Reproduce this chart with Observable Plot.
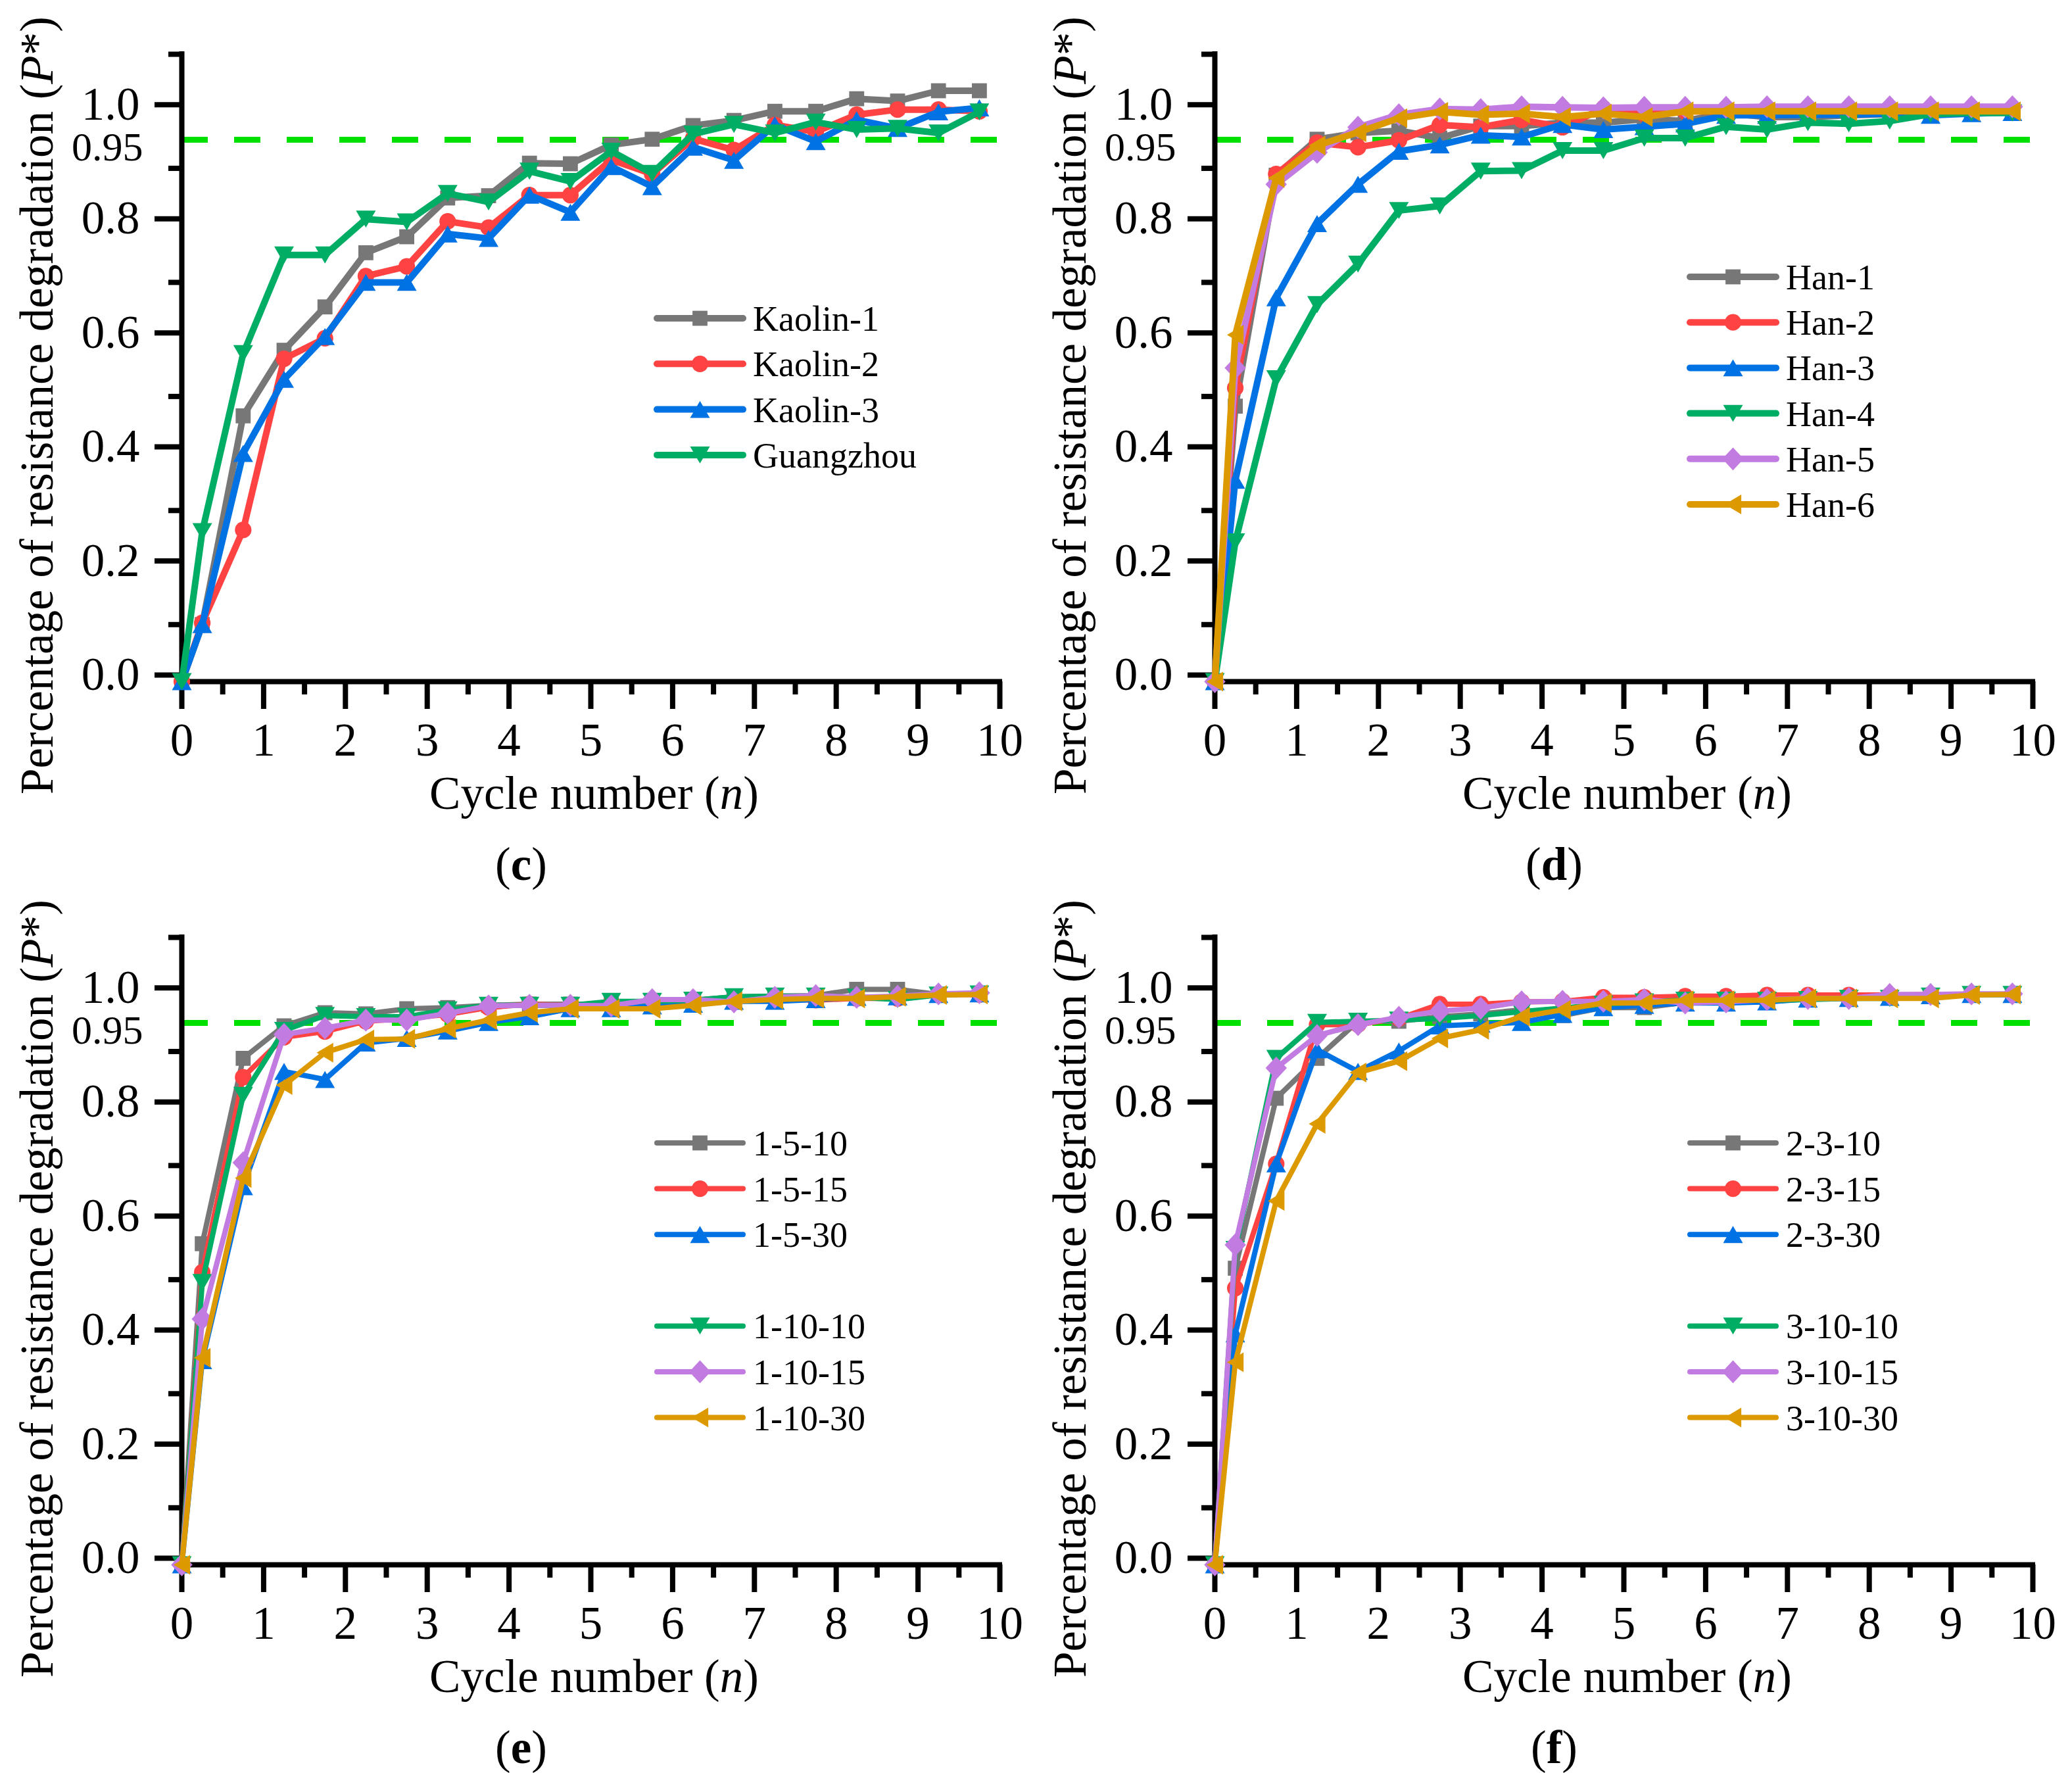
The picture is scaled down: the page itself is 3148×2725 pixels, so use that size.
<!DOCTYPE html>
<html>
<head>
<meta charset="utf-8">
<script src="https://cdn.jsdelivr.net/npm/d3@7"></script>
<script src="https://cdn.jsdelivr.net/npm/@observablehq/plot@0.6"></script>
<style>
  body { margin: 0; background: #fff; }
  #root { position: relative; width: 3148px; height: 2725px; background: #fff; font-family: "Liberation Serif", "Times New Roman", serif; }
  .panel { position: absolute; width: 1572px; height: 1343px; }
  .panel svg { position: absolute; left: 0; top: 0; }
  .legend { pointer-events: none; }
</style>
</head>
<body>
<div id="root"></div>
<script>
// ---------- DATA ----------
const cycles = [0, 0.25, 0.75, 1.25, 1.75, 2.25, 2.75, 3.25, 3.75, 4.25, 4.75, 5.25, 5.75, 6.25, 6.75, 7.25, 7.75, 8.25, 8.75, 9.25, 9.75];

const yTicks = [0, 0.2, 0.4, 0.6, 0.8, 1.0];
const yMinorTicks = [0.1, 0.3, 0.5, 0.7, 0.9, 1.1];
const xTicks = [0, 1, 2, 3, 4, 5, 6, 7, 8, 9, 10];
const xMinorTicks = [0.5, 1.5, 2.5, 3.5, 4.5, 5.5, 6.5, 7.5, 8.5, 9.5];
const threshold = [0.95];

// (c)
const namesC = ["Kaolin-1", "Kaolin-2", "Kaolin-3", "Guangzhou"];
const kaolin1 = [0, 0.10, 0.466, 0.581, 0.657, 0.752, 0.78, 0.848, 0.852, 0.909, 0.908, 0.941, 0.951, 0.975, 0.984, 1.0, 1.0, 1.022, 1.018, 1.036, 1.036];
const kaolin2 = [0, 0.103, 0.266, 0.566, 0.602, 0.711, 0.728, 0.807, 0.796, 0.853, 0.853, 0.915, 0.89, 0.952, 0.932, 0.976, 0.964, 0.994, 1.003, 1.003, 1.0];
const kaolin3 = [0, 0.10, 0.40, 0.53, 0.605, 0.70, 0.70, 0.785, 0.777, 0.853, 0.823, 0.903, 0.868, 0.937, 0.914, 0.976, 0.947, 0.985, 0.97, 0.999, 1.006];
const guangzhou = [0, 0.263, 0.575, 0.748, 0.748, 0.811, 0.806, 0.856, 0.841, 0.895, 0.877, 0.93, 0.891, 0.96, 0.977, 0.962, 0.981, 0.968, 0.97, 0.962, 0.999];

// (d)
const namesD = ["Han-1", "Han-2", "Han-3", "Han-4", "Han-5", "Han-6"];
const han1 = [0, 0.483, 0.888, 0.951, 0.962, 0.966, 0.953, 0.974, 0.974, 0.98, 0.98, 0.986, 0.983, 0.997, 0.99, 0.99, 0.993, 0.995, 0.995, 0.998, 0.998];
const han2 = [0, 0.515, 0.89, 0.945, 0.937, 0.949, 0.976, 0.972, 0.985, 0.972, 1.005, 0.995, 1.0, 1.0, 1.0, 1.0, 1.0, 1.0, 1.0, 1.0, 1.0];
const han3 = [0, 0.353, 0.673, 0.803, 0.872, 0.93, 0.941, 0.958, 0.955, 0.977, 0.968, 0.973, 0.978, 0.993, 0.993, 0.994, 0.994, 0.996, 0.993, 0.996, 0.998];
const han4 = [0, 0.245, 0.531, 0.661, 0.732, 0.826, 0.834, 0.895, 0.896, 0.931, 0.931, 0.953, 0.953, 0.973, 0.968, 0.98, 0.978, 0.983, 0.995, 0.997, 0.997];
const han5 = [0, 0.55, 0.872, 0.928, 0.972, 0.994, 1.004, 1.003, 1.008, 1.007, 1.006, 1.007, 1.007, 1.007, 1.008, 1.008, 1.008, 1.008, 1.008, 1.008, 1.008];
const han6 = [0, 0.608, 0.883, 0.94, 0.963, 0.988, 0.999, 0.994, 0.996, 0.99, 0.996, 0.99, 1.0, 1.0, 1.0, 1.0, 1.0, 1.0, 1.0, 1.0, 1.0];

// (e)
const namesE = ["1-5-10", "1-5-15", "1-5-30", "1-10-10", "1-10-15", "1-10-30"];
const e1510 = [0, 0.563, 0.888, 0.945, 0.968, 0.966, 0.975, 0.977, 0.981, 0.983, 0.983, 0.983, 0.986, 0.99, 0.996, 0.997, 0.998, 1.009, 1.009, 1.0, 1.0];
const e1515 = [0, 0.513, 0.855, 0.925, 0.935, 0.953, 0.958, 0.965, 0.977, 0.983, 0.981, 0.985, 0.988, 0.99, 0.988, 0.993, 0.99, 0.993, 0.993, 1.0, 1.0];
const e1530 = [0, 0.358, 0.663, 0.865, 0.851, 0.915, 0.923, 0.936, 0.951, 0.961, 0.975, 0.975, 0.98, 0.983, 0.988, 0.988, 0.991, 0.995, 0.996, 1.0, 1.001];
const e11010 = [0, 0.495, 0.823, 0.937, 0.963, 0.961, 0.961, 0.973, 0.981, 0.981, 0.981, 0.988, 0.988, 0.99, 0.996, 0.997, 0.997, 0.995, 0.991, 0.999, 1.001];
const e11015 = [0, 0.431, 0.705, 0.93, 0.941, 0.955, 0.955, 0.967, 0.98, 0.981, 0.981, 0.98, 0.991, 0.991, 0.987, 0.995, 0.998, 0.995, 0.997, 1.001, 1.003];
const e11030 = [0, 0.363, 0.678, 0.841, 0.898, 0.921, 0.922, 0.94, 0.955, 0.968, 0.975, 0.975, 0.975, 0.981, 0.988, 0.991, 0.993, 0.993, 0.996, 0.999, 1.0];

// (f)
const namesF = ["2-3-10", "2-3-15", "2-3-30", "3-10-10", "3-10-15", "3-10-30"];
const f2310 = [0, 0.52, 0.818, 0.888, 0.953, 0.953, 0.961, 0.966, 0.973, 0.963, 0.977, 0.977, 0.986, 0.987, 0.987, 0.993, 0.995, 0.995, 0.997, 1.0, 1.0];
const f2315 = [0, 0.485, 0.703, 0.947, 0.947, 0.958, 0.983, 0.983, 0.987, 0.988, 0.995, 0.995, 0.997, 0.997, 0.999, 0.999, 0.999, 0.999, 1.0, 1.0, 1.0];
const f2330 = [0, 0.405, 0.703, 0.903, 0.865, 0.901, 0.945, 0.948, 0.951, 0.965, 0.977, 0.981, 0.985, 0.985, 0.987, 0.992, 0.993, 0.995, 0.998, 1.0, 1.0];
const f31010 = [0, 0.553, 0.888, 0.951, 0.953, 0.955, 0.958, 0.963, 0.97, 0.976, 0.983, 0.987, 0.99, 0.99, 0.99, 0.991, 0.993, 0.993, 0.997, 1.0, 1.0];
const f31015 = [0, 0.561, 0.871, 0.928, 0.947, 0.96, 0.971, 0.976, 0.987, 0.988, 0.988, 0.991, 0.985, 0.987, 0.991, 0.993, 0.993, 1.0, 1.0, 1.001, 1.001];
const f31030 = [0, 0.355, 0.638, 0.773, 0.863, 0.883, 0.923, 0.938, 0.961, 0.973, 0.985, 0.985, 0.99, 0.99, 0.99, 0.993, 0.993, 0.993, 0.993, 0.999, 1.0];

// ---------- STYLE ----------
const GRAY = "#777777", RED = "#FF4242", BLUE = "#0072E3", GREEN = "#00AD65", PURPLE = "#C27BE0", ORANGE = "#DC9A00";
const DASH = "#00E000";
const FONT = '"Liberation Serif", "Times New Roman", serif';

const poly = (pts) => ({
  draw(ctx, size) {
    const r = Math.sqrt(size / Math.PI);
    ctx.moveTo(pts[0][0] * r, pts[0][1] * r);
    for (const p of pts.slice(1)) ctx.lineTo(p[0] * r, p[1] * r);
    ctx.closePath();
  }
});
const symSquare = poly([[-0.95, -0.95], [0.95, -0.95], [0.95, 0.95], [-0.95, 0.95]]);
const symCircle = { draw(ctx, size) { const r = Math.sqrt(size / Math.PI) * 1.05; ctx.moveTo(r, 0); ctx.arc(0, 0, r, 0, 2 * Math.PI); } };
const symUp = poly([[0, -1.08], [1.25, 1.08], [-1.25, 1.08]]);
const symDown = poly([[0, 1.08], [1.25, -1.08], [-1.25, -1.08]]);
const symDiamond = poly([[0, -1.45], [1.35, 0], [0, 1.45], [-1.35, 0]]);
const symLeft = poly([[-1.05, 0], [1.05, -1.25], [1.05, 1.25]]);

const colors6 = [GRAY, RED, BLUE, GREEN, PURPLE, ORANGE];
const symbols6 = [symSquare, symCircle, symUp, symDown, symDiamond, symLeft];

const panels = [
  { tag: "c", left: 0, top: 0, lw: 10, names: namesC, values: [kaolin1, kaolin2, kaolin3, guangzhou], legendTop: 484, legendStep: 69.3, gap: false },
  { tag: "d", left: 1571, top: 0, lw: 10, names: namesD, values: [han1, han2, han3, han4, han5, han6], legendTop: 421, legendStep: 69.2, gap: false },
  { tag: "e", left: 0, top: 1343, lw: 8, names: namesE, values: [e1510, e1515, e1530, e11010, e11015, e11030], legendTop: 395, legendStep: 69.6, gap: true },
  { tag: "f", left: 1571, top: 1343, lw: 8, names: namesF, values: [f2310, f2315, f2330, f31010, f31015, f31030], legendTop: 395, legendStep: 69.6, gap: true }
];

const W = 1572, H = 1343;
const root = document.getElementById("root");
const SVGNS = "http://www.w3.org/2000/svg";

function rich(el, parts) {
  el.textContent = "";
  for (const [s, st] of parts) {
    const ts = document.createElementNS(SVGNS, "tspan");
    ts.textContent = s;
    if (st === "i") ts.setAttribute("font-style", "italic");
    if (st === "b") ts.setAttribute("font-weight", "bold");
    el.appendChild(ts);
  }
}

for (const p of panels) {
  const series = p.names.map((name, k) => ({
    name,
    color: colors6[k],
    symbol: symbols6[k],
    rows: cycles.map((x, i) => ({ x, y: p.values[k][i] }))
  }));
  const seriesMarks = series.flatMap((s) => [
    Plot.line(s.rows, { x: "x", y: "y", stroke: s.color, strokeWidth: p.lw, strokeLinejoin: "miter", strokeLinecap: "butt" }),
    Plot.dot(s.rows, { x: "x", y: "y", symbol: s.symbol, r: 12, fill: s.color, stroke: "none" })
  ]);

  const chart = Plot.plot({
    width: W, height: H,
    marginLeft: 276, marginRight: 52, marginTop: 82, marginBottom: 307,
    x: { domain: [0, 10], label: null },
    y: { domain: [0, 1.1], label: null },
    style: { fontFamily: FONT, background: "transparent", color: "black", overflow: "visible" },
    marks: [
      Plot.ruleY(threshold, { x1: 0, x2: 10, stroke: DASH, strokeWidth: 9, strokeDasharray: "40,40" }),
      Plot.axisY({ ticks: yTicks, tickSize: 41, tickPadding: 23, tickFormat: (d) => d.toFixed(1), fontSize: 71, strokeWidth: 8, dy: -10, label: null }),
      Plot.axisY({ ticks: yMinorTicks, tickSize: 20, tickFormat: () => "", strokeWidth: 8, label: null }),
      Plot.axisX({ ticks: xTicks, tickSize: 42, tickPadding: 20, tickFormat: (d) => String(d), fontSize: 71, strokeWidth: 8, label: null }),
      Plot.axisX({ ticks: xMinorTicks, tickSize: 20, tickFormat: () => "", strokeWidth: 8, label: null }),
      Plot.ruleX([0], { y1: 0, y2: 1.1, strokeWidth: 8, strokeLinecap: "square" }),
      Plot.ruleY([0], { x1: 0, x2: 10, strokeWidth: 8, strokeLinecap: "square" }),
      Plot.text(threshold, { x: 0, y: (d) => d, text: (d) => d.toFixed(2), textAnchor: "end", dx: -59, dy: 12, fontSize: 62 }),
      ...seriesMarks,
      Plot.text(["Cycle number (n)"], { text: (d) => d, frameAnchor: "bottom", textAnchor: "middle", lineAnchor: "middle", dx: 5, dy: 171, fontSize: 71 }),
      Plot.text(["Percentage of resistance degradation (P*)"], { text: (d) => d, frameAnchor: "left", textAnchor: "middle", lineAnchor: "middle", rotate: -90, dx: -219, dy: 57, fontSize: 71 }),
      Plot.text([`(${p.tag})`], { text: (d) => d, frameAnchor: "bottom", textAnchor: "middle", lineAnchor: "middle", dx: -106, dy: 279, fontSize: 71 })
    ]
  });

  // rich text (italics / bold)
  d3.select(chart).selectAll("text").each(function () {
    const t = this.textContent;
    if (t === "Cycle number (n)") rich(this, [["Cycle number (", ""], ["n", "i"], [")", ""]]);
    else if (t === "Percentage of resistance degradation (P*)") rich(this, [["Percentage of resistance degradation (", ""], ["P", "i"], ["*)", ""]]);
    else if (t === `(${p.tag})`) rich(this, [["(", ""], [p.tag, "b"], [")", ""]]);
  });

  const div = document.createElement("div");
  div.className = "panel";
  div.style.left = p.left + "px";
  div.style.top = p.top + "px";
  div.appendChild(chart);

  // legend overlay
  const lg = d3.create("svg").attr("class", "legend").attr("width", W).attr("height", H)
    .style("font-family", FONT);
  series.forEach((s, i) => {
    const y = p.legendTop + i * p.legendStep + (p.gap && i >= 3 ? p.legendStep : 0);
    const g = lg.append("g");
    g.append("line").attr("x1", 999).attr("x2", 1130).attr("y1", y).attr("y2", y)
      .attr("stroke", s.color).attr("stroke-width", p.lw).attr("stroke-linecap", "round");
    g.append("path").attr("d", d3.symbol(s.symbol, Math.PI * 144)()).attr("transform", `translate(1064.5,${y})`).attr("fill", s.color);
    g.append("text").attr("x", 1145).attr("y", y).attr("dy", "0.35em").attr("font-size", 54).attr("fill", "black").text(s.name);
  });
  div.appendChild(lg.node());
  root.appendChild(div);
}
</script>
</body>
</html>
